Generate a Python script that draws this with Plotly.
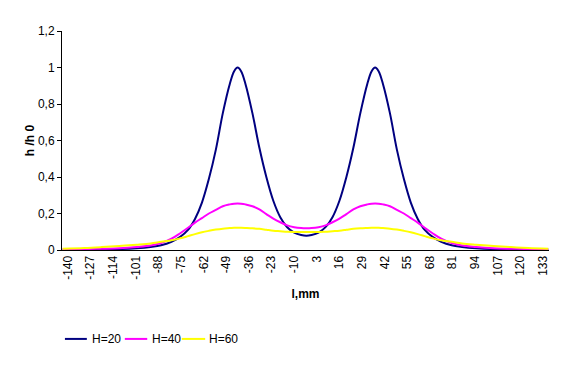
import plotly.graph_objects as go

# positions along the strip, mm
l_mm = [-143, -130.5, -120.5, -110.5, -100.5, -92.5, -86.5, -80.5, -75.5, -71, -67, -63, -59, -55,
        -51, -47, -44.5, -42.5, -40.5, -38, -34, -30, -26, -22, -18, -14, -10, -6, -3, 0, 4, 8,
        12, 16, 20, 24, 28, 32, 34.5, 36.5, 38.5, 41, 45, 49, 53, 57, 61, 65, 69.5, 74.5, 80.5,
        86.5, 94.5, 104.5, 114.5, 124.5, 136]

h20 = [0.001, 0.002, 0.003, 0.005, 0.010, 0.017, 0.026, 0.045, 0.072, 0.11, 0.17, 0.26, 0.39, 0.55,
       0.75, 0.91, 0.98, 1.0, 0.98, 0.91, 0.75, 0.56, 0.40, 0.27, 0.18, 0.125, 0.095, 0.082, 0.078,
       0.082, 0.095, 0.125, 0.18, 0.27, 0.40, 0.56, 0.75, 0.91, 0.98, 1.0, 0.98, 0.91, 0.75, 0.55,
       0.39, 0.26, 0.17, 0.11, 0.072, 0.045, 0.026, 0.017, 0.010, 0.005, 0.003, 0.002, 0.001]

h40 = [0.004, 0.005, 0.007, 0.010, 0.017, 0.025, 0.038, 0.062, 0.092, 0.122, 0.15, 0.175, 0.20, 0.22,
       0.24, 0.25, 0.254, 0.255, 0.254, 0.25, 0.24, 0.222, 0.197, 0.172, 0.152, 0.135, 0.125, 0.12,
       0.119, 0.12, 0.125, 0.135, 0.152, 0.172, 0.197, 0.222, 0.24, 0.25, 0.254, 0.255, 0.254, 0.25,
       0.24, 0.22, 0.20, 0.175, 0.15, 0.122, 0.092, 0.062, 0.038, 0.025, 0.017, 0.010, 0.007, 0.005,
       0.004]

h60 = [0.007, 0.011, 0.016, 0.022, 0.029, 0.036, 0.045, 0.053, 0.064, 0.076, 0.087, 0.097, 0.105,
       0.112, 0.117, 0.12, 0.122, 0.122, 0.122, 0.121, 0.119, 0.116, 0.111, 0.106, 0.103, 0.100,
       0.099, 0.099, 0.099, 0.099, 0.099, 0.100, 0.103, 0.106, 0.111, 0.116, 0.119, 0.121, 0.122,
       0.122, 0.122, 0.12, 0.117, 0.112, 0.105, 0.097, 0.087, 0.076, 0.064, 0.053, 0.045, 0.036,
       0.029, 0.022, 0.016, 0.011, 0.007]

series_names = ["H=20", "H=40", "H=60"]
series_colors = ["#000080", "#FF00FF", "#FFFF00"]

x_tick_vals = [-140, -127, -114, -101, -88, -75, -62, -49, -36, -23, -10, 3, 16, 29, 42, 55, 68,
               81, 94, 107, 120, 133]
x_tick_text = [str(v) for v in x_tick_vals]
y_tick_vals = [0, 0.2, 0.4, 0.6, 0.8, 1.0, 1.2]
y_tick_text = ["0", "0,2", "0,4", "0,6", "0,8", "1", "1,2"]

fig = go.Figure()
for name, ys, col in zip(series_names, [h20, h40, h60], series_colors):
    fig.add_trace(go.Scatter(x=l_mm, y=ys, name=name, mode="lines", showlegend=False,
                             line=dict(color=col, width=2, shape="spline", smoothing=1.0)))

font_main = "Liberation Sans, Arial, sans-serif"

# legend drawn below the axis: sample line + label for each series
legend_y = -0.406
legend_line_x = [(0.006, 0.051), (0.129, 0.175), (0.246, 0.294)]
legend_text_x = [0.058, 0.181, 0.298]
shapes = []
annotations = []
for (x0, x1), tx, name, col in zip(legend_line_x, legend_text_x, series_names, series_colors):
    shapes.append(dict(type="line", xref="paper", yref="paper", x0=x0, x1=x1,
                       y0=legend_y, y1=legend_y, line=dict(color=col, width=2)))
    annotations.append(dict(text=name, xref="paper", yref="paper", x=tx, y=legend_y,
                            xanchor="left", yanchor="middle", showarrow=False,
                            font=dict(size=12, family=font_main, color="black")))

fig.update_layout(
    width=564, height=370,
    margin=dict(l=54, r=23, t=23, b=128),
    paper_bgcolor="white", plot_bgcolor="white",
    font=dict(family=font_main, size=12, color="black"),
    showlegend=False,
    shapes=shapes,
    annotations=annotations,
    xaxis=dict(range=[-143.4, 136.4], tickmode="array", tickvals=x_tick_vals,
               ticktext=x_tick_text, tickangle=-90, showgrid=False, zeroline=False,
               showline=True, linecolor="black", linewidth=1, ticks="",
               tickfont=dict(size=12, family=font_main),
               title=dict(text="<b>l,mm</b>", font=dict(size=12, family=font_main), standoff=10)),
    yaxis=dict(range=[0, 1.2], tickmode="array", tickvals=y_tick_vals, ticktext=y_tick_text,
               showgrid=False, zeroline=False, showline=True, linecolor="black", linewidth=1,
               ticks="outside", ticklen=4, tickcolor="black",
               tickfont=dict(size=12, family=font_main),
               title=dict(text="<b>h /h 0</b>", font=dict(size=12, family=font_main), standoff=0)),
)

fig.write_html("out.html")
